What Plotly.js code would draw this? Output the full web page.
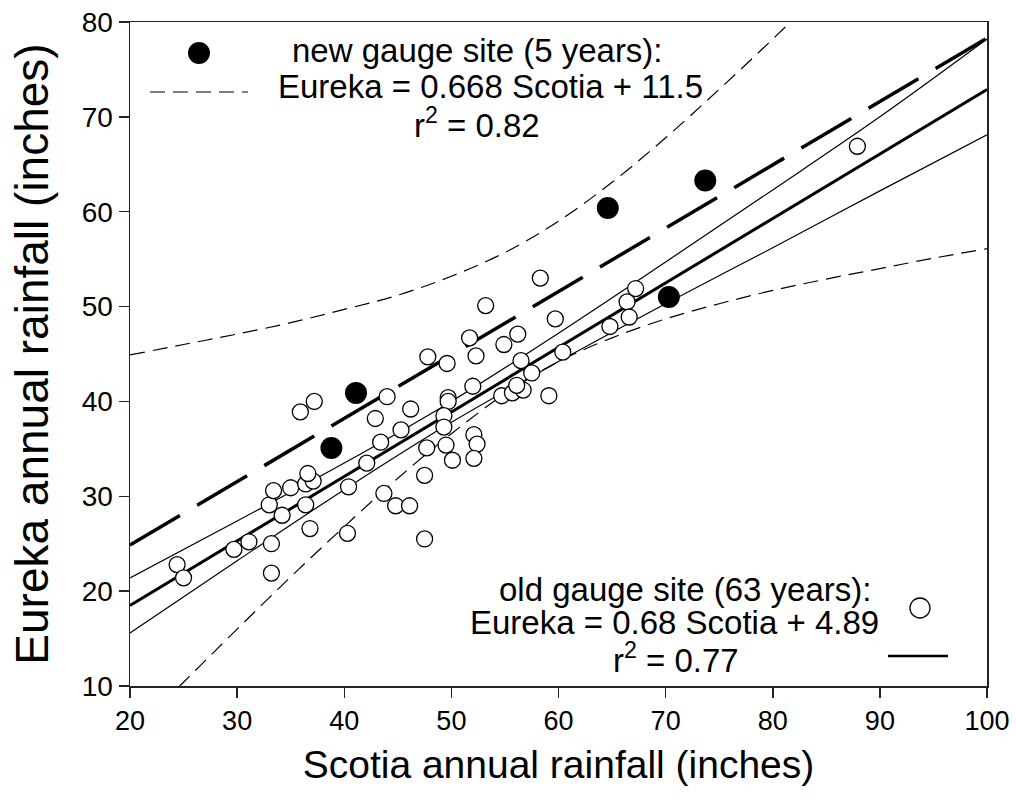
<!DOCTYPE html>
<html><head><meta charset="utf-8">
<script src="https://cdn.plot.ly/plotly-3.0.1.min.js"></script>
<style>html,body{margin:0;padding:0;background:#fff}</style>
</head><body>
<div id="chart" style="width:1016px;height:805px"></div>
<script>
// Old gauge site (63 years): Scotia vs Eureka annual rainfall
const oldX = [24.4,25.0,29.7,31.1,33.2,33.2,33.0,33.4,34.2,35.0,36.4,37.1,36.4,36.8,36.6,40.4,40.3,43.7,44.8,46.1,47.5,47.5,47.7,47.8,35.9,37.2,44.0,42.9,46.2,45.3,43.4,42.1,53.2,51.7,49.6,52.3,54.9,56.2,59.7,66.4,66.6,64.8,60.4,56.5,57.5,52.0,49.7,49.7,49.3,49.3,54.7,55.7,56.7,56.1,59.1,52.1,52.4,49.5,50.1,52.1,87.9,67.2,58.3];
const oldY = [22.8,21.4,24.4,25.2,25.0,21.9,29.1,30.6,28.0,30.9,31.3,31.6,29.1,26.6,32.4,31.0,26.1,30.3,29.0,29.0,25.5,32.2,35.1,44.7,38.9,40.0,40.5,38.2,39.2,37.0,35.7,33.5,50.1,46.7,44.0,44.8,46.0,47.1,48.7,50.5,48.9,47.9,45.2,44.3,43.0,41.6,40.4,40.0,38.5,37.3,40.6,40.9,41.2,41.7,40.6,36.5,35.5,35.4,33.8,34.0,66.9,51.9,53.0];
// New gauge site (5 years)
const newX = [38.8,41.1,64.6,73.7,70.3];
const newY = [35.1,40.9,60.4,63.3,51.0];
// Regression lines (end points)
const fitX = [20,100];
const oldFitY = [18.49,72.89];
const newFitY = [24.86,78.30];
// Confidence bands
const oldBandX = [20,30,40,50,60,70,80,90,100];
const oldUpper = [21.4,27.4,33.5,40.0,47.2,54.7,62.3,70.0,78.2];
const oldLower = [15.6,23.2,30.7,37.8,44.2,50.3,56.2,62.2,68.1];
const newBandX = [20,25,30,35,40,45,50,55,60,65,70,75,80,85,90,95,100];
const newUpper = [44.9,46.0,47.1,48.3,49.7,51.2,53.2,55.7,59.0,63.1,67.8,72.9,78.2,83.7,89.2,94.9,100.5];
const newLower = [4.8,10.4,16.0,21.5,26.8,31.9,36.6,40.8,44.2,46.7,48.7,50.3,51.7,52.9,54.0,55.1,56.1];
// Axis ticks
const xTicks = [20,30,40,50,60,70,80,90,100];
const yTicks = [10,20,30,40,50,60,70,80];

const traces = [
  {x:newBandX, y:newUpper, mode:'lines', line:{color:'#000', width:1.2, dash:'15px,8px', shape:'spline'}, hoverinfo:'skip'},
  {x:newBandX, y:newLower, mode:'lines', line:{color:'#000', width:1.2, dash:'15px,8px', shape:'spline'}, hoverinfo:'skip'},
  {x:oldBandX, y:oldUpper, mode:'lines', line:{color:'#000', width:1.2, shape:'spline'}, hoverinfo:'skip'},
  {x:oldBandX, y:oldLower, mode:'lines', line:{color:'#000', width:1.2, shape:'spline'}, hoverinfo:'skip'},
  {x:fitX, y:oldFitY, mode:'lines', line:{color:'#000', width:3}},
  {x:fitX, y:newFitY, mode:'lines', line:{color:'#000', width:3.5, dash:'58px,20px'}},
  {x:oldX, y:oldY, mode:'markers', marker:{symbol:'circle', size:16, color:'#fff', line:{color:'#000', width:1.3}}},
  {x:newX, y:newY, mode:'markers', marker:{symbol:'circle', size:22, color:'#000', line:{color:'#000', width:0}}}
];

const F = 'Liberation Sans, Arial, Helvetica, sans-serif';
const txt = (t, x, y) => ({text:t, xref:'paper', yref:'paper', x:x, y:y, xanchor:'center', yanchor:'middle', showarrow:false, font:{size:33, family:F, color:'#000'}});

const layout = {
  width:1016, height:805,
  margin:{l:130, r:29, t:22, b:119, pad:0},
  paper_bgcolor:'#fff', plot_bgcolor:'#fff',
  showlegend:false,
  font:{family:F, color:'#000'},
  xaxis:{range:[20,100], tickvals:xTicks, ticktext:xTicks.map(String), ticks:'outside', ticklen:10, tickwidth:1.5, tickcolor:'#222',
    showline:true, linecolor:'#222', linewidth:1.5, mirror:true, showgrid:false, zeroline:false,
    tickfont:{size:27, family:F, color:'#000'},
    title:{text:'Scotia annual rainfall (inches)', font:{size:39, family:F, color:'#000'}, standoff:16}},
  yaxis:{range:[10,80], tickvals:yTicks, ticktext:yTicks.map(String), ticks:'outside', ticklen:10, tickwidth:1.5, tickcolor:'#222',
    showline:true, linecolor:'#222', linewidth:1.5, mirror:true, showgrid:false, zeroline:false,
    tickfont:{size:28, family:F, color:'#000'},
    title:{text:'Eureka annual rainfall (inches)', font:{size:46, family:F, color:'#000'}, standoff:18}},
  annotations:[
    txt('new gauge site (5 years):', 0.4050, 0.9578),
    txt('Eureka = 0.668 Scotia + 11.5', 0.4201, 0.9036),
    txt('r<sup>2</sup> = 0.82', 0.4049, 0.8480),
    txt('old gauge site (63 years):', 0.6476, 0.1455),
    txt('Eureka = 0.68 Scotia + 4.89', 0.6348, 0.0960),
    txt('r<sup>2</sup> = 0.77', 0.6371, 0.0420)
  ],
  shapes:[
    {type:'circle', xref:'paper', yref:'paper', x0:0.0805-0.01284, x1:0.0805+0.01284, y0:0.9533-0.01657, y1:0.9533+0.01657, fillcolor:'#000', line:{color:'#000', width:0}},
    {type:'line', xref:'paper', yref:'paper', x0:0.0233, x1:0.1377, y0:0.8946, y1:0.8946, line:{color:'#000', width:1.2, dash:'15px,8px'}},
    {type:'circle', xref:'paper', yref:'paper', x0:0.9218-0.01167, x1:0.9218+0.01167, y0:0.1175-0.01506, y1:0.1175+0.01506, fillcolor:'#fff', line:{color:'#000', width:1.3}},
    {type:'line', xref:'paper', yref:'paper', x0:0.8845, x1:0.9545, y0:0.0452, y1:0.0452, line:{color:'#000', width:2.5}}
  ]
};

Plotly.newPlot('chart', traces, layout, {displayModeBar:false, staticPlot:true});
</script>
</body></html>
